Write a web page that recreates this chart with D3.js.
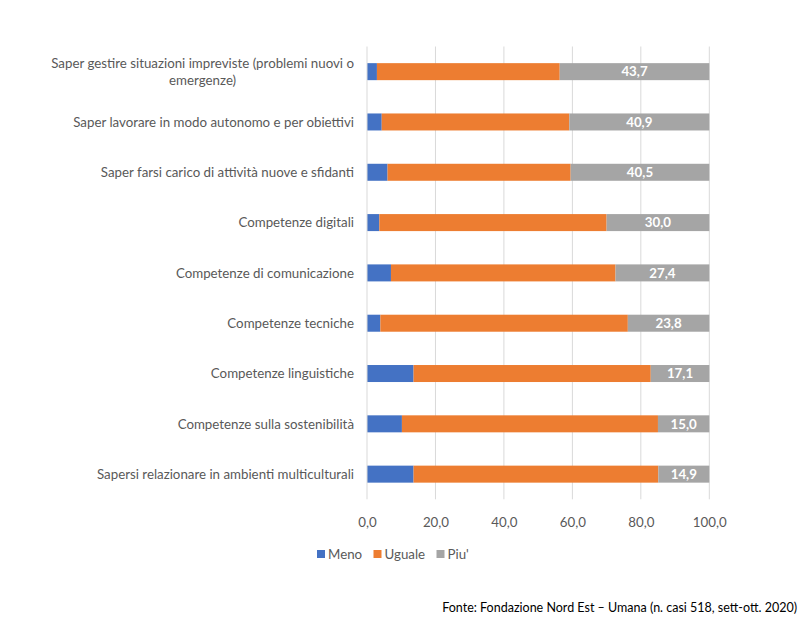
<!DOCTYPE html>
<html>
<head>
<meta charset="utf-8">
<script src="https://cdn.jsdelivr.net/npm/d3@7"></script>
<style>
  html, body { margin: 0; padding: 0; background: #fff; }
  svg { display: block; }
  text { font-family: Lato, "Open Sans", sans-serif; }
</style>
</head>
<body>
<svg id="chart" width="811" height="620"></svg>
<script>
const categories = [
  "Saper gestire situazioni impreviste (problemi nuovi o emergenze)",
  "Saper lavorare in modo autonomo e per obiettivi",
  "Saper farsi carico di attività nuove e sfidanti",
  "Competenze digitali",
  "Competenze di comunicazione",
  "Competenze tecniche",
  "Competenze linguistiche",
  "Competenze sulla sostenibilità",
  "Sapersi relazionare in ambienti multiculturali"
];
const meno   = [2.9, 4.3, 6.0, 3.6, 7.0, 3.9, 13.6, 10.2, 13.6];
const uguale = [53.4, 54.8, 53.5, 66.4, 65.6, 72.3, 69.3, 74.8, 71.5];
const piu    = [43.7, 40.9, 40.5, 30.0, 27.4, 23.8, 17.1, 15.0, 14.9];
const seriesNames = ["Meno", "Uguale", "Piu'"];
const seriesColors = ["#4472C4", "#ED7D31", "#A5A5A5"];
const xTicks = [0, 20, 40, 60, 80, 100];
const sourceText = "Fonte: Fondazione Nord Est \u2013 Umana (n. casi 518, sett-ott. 2020)";

(function () {
const svg = d3.select("#chart");
const locale = d3.formatLocale({decimal: ",", thousands: ".", grouping: [3], currency: ["", "€"]});
const fmt = locale.format(".1f");

const pLeft = 367, pRight = 709.3, pTop = 46.5, pBottom = 499.3;
const x = d3.scaleLinear().domain([0, 100]).range([pLeft, pRight]);
const y = d3.scaleBand().domain(categories).range([pTop, pBottom]).paddingInner(0.662).paddingOuter(0.331);

// gridlines
svg.append("g").selectAll("line").data(xTicks.slice(1)).join("line")
  .attr("x1", d => x(d)).attr("x2", d => x(d))
  .attr("y1", pTop).attr("y2", pBottom)
  .attr("stroke", "#D9D9D9").attr("stroke-width", 1);

// stacked data
const rows = categories.map((c, i) => ({cat: c, Meno: meno[i], Uguale: uguale[i], "Piu'": piu[i]}));
const stack = d3.stack().keys(seriesNames)(rows);

const gBars = svg.append("g");
stack.forEach((layer, li) => {
  gBars.append("g").attr("fill", seriesColors[li]).selectAll("rect").data(layer).join("rect")
    .attr("x", d => x(d[0]))
    .attr("width", d => x(d[1]) - x(d[0]))
    .attr("y", d => y(d.data.cat))
    .attr("height", y.bandwidth());
});

// left axis line
svg.append("line").attr("x1", x(0)).attr("x2", x(0)).attr("y1", pTop).attr("y2", pBottom)
  .attr("stroke", "#D9D9D9").attr("stroke-width", 1);

// data labels for Piu'
svg.append("g").selectAll("text").data(stack[2]).join("text")
  .attr("x", d => (x(d[0]) + x(d[1])) / 2)
  .attr("y", d => y(d.data.cat) + y.bandwidth() / 2)
  .attr("dy", "0.36em")
  .attr("text-anchor", "middle")
  .attr("fill", "#fff").attr("font-weight", "bold").attr("font-size", "13.3px")
  .text(d => fmt(d.data["Piu'"]));

// x axis tick labels
const xAxis = d3.axisBottom(x).tickValues(xTicks).tickFormat(fmt).tickSize(0).tickPadding(0);
const gx = svg.append("g").attr("transform", `translate(0,${pBottom})`).call(xAxis);
gx.select(".domain").remove();
gx.selectAll("text").attr("y", 23).attr("dy", "0.36em").attr("fill", "#595959")
  .attr("font-size", "13.3px").attr("font-family", "Lato, sans-serif");

// category labels (Excel-like wrapping)
const labelRight = 354, maxW = 310, lineH = 17, fs = "13.3px";
const gy = svg.append("g");
categories.forEach(c => {
  const cy = y(c) + y.bandwidth() / 2;
  const t = gy.append("text").attr("font-size", fs).attr("fill", "#595959");
  const words = c.split(" ");
  const lines = [];
  let cur = [];
  const probe = gy.append("text").attr("font-size", fs);
  words.forEach(w => {
    const trial = cur.concat([w]).join(" ");
    probe.text(trial);
    if (probe.node().getComputedTextLength() > maxW && cur.length) {
      lines.push(cur.join(" "));
      cur = [w];
    } else cur.push(w);
  });
  lines.push(cur.join(" "));
  const widths = lines.map(l => { probe.text(l); return probe.node().getComputedTextLength(); });
  probe.remove();
  const blockW = d3.max(widths);
  const n = lines.length;
  if (n === 1) {
    t.attr("x", labelRight).attr("y", cy).attr("dy", "0.36em").attr("text-anchor", "end").text(lines[0]);
  } else {
    t.attr("text-anchor", "middle");
    lines.forEach((l, i) => {
      t.append("tspan").attr("x", labelRight - blockW / 2)
        .attr("y", cy + (i - (n - 1) / 2) * lineH).attr("dy", "0.36em").text(l);
    });
  }
});

// legend
const legend = svg.append("g");
const legendX = [317, 373.5, 436.5];
seriesNames.forEach((s, i) => {
  legend.append("rect").attr("x", legendX[i]).attr("y", 550).attr("width", 8).attr("height", 8).attr("fill", seriesColors[i]);
  legend.append("text").attr("x", legendX[i] + 11).attr("y", 554).attr("dy", "0.36em")
    .attr("font-size", "13.3px").attr("fill", "#595959").text(s);
});

// source
svg.append("text").attr("x", 797).attr("y", 607).attr("dy", "0.36em").attr("text-anchor", "end")
  .attr("font-size", "12.5px").attr("fill", "#000").text(sourceText);
})();
</script>
</body>
</html>
